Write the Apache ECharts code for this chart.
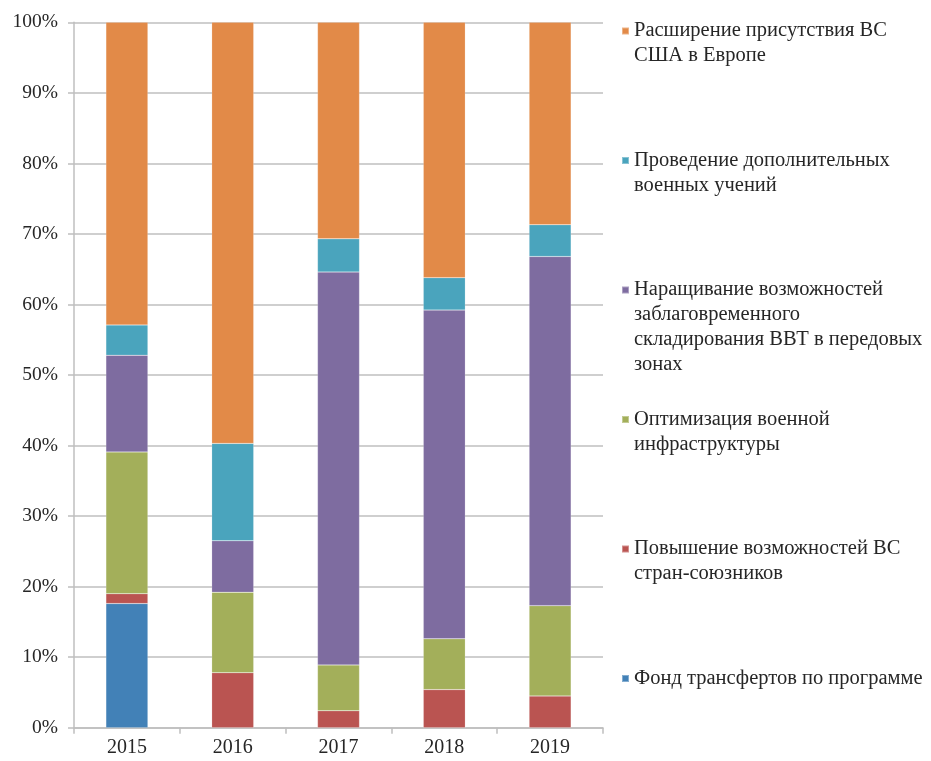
<!DOCTYPE html>
<html>
<head>
<meta charset="utf-8">
<script src="https://cdn.jsdelivr.net/npm/echarts@6/dist/echarts.min.js"></script>
<style>
  html, body { margin: 0; padding: 0; background: #fff; }
  #chart { width: 931px; height: 761px; }
</style>
</head>
<body>
<div id="chart"></div>
<script>
// Categories (years)
const years = ['2015', '2016', '2017', '2018', '2019'];

// Series names, bottom of the stack first (line breaks as shown in the legend)
const seriesNames = [
  'Фонд трансфертов по программе',
  'Повышение возможностей ВС\nстран-союзников',
  'Оптимизация военной\nинфраструктуры',
  'Наращивание возможностей\nзаблаговременного\nскладирования ВВТ в передовых\nзонах',
  'Проведение дополнительных\nвоенных учений',
  'Расширение присутствия ВС\nСША в Европе'
];

// Shares, % of the yearly total
const fundTransfers   = [17.6, 0, 0, 0, 0];
const alliesCapacity  = [1.4, 7.8, 2.4, 5.4, 4.5];
const infrastructure  = [20.1, 11.4, 6.5, 7.2, 12.8];
const prepositioning  = [13.7, 7.3, 55.7, 46.6, 49.5];
const exercises       = [4.3, 13.8, 4.7, 4.6, 4.5];
const presence        = [42.9, 59.7, 30.7, 36.2, 28.7];

const seriesValues = [fundTransfers, alliesCapacity, infrastructure, prepositioning, exercises, presence];
const colors = ['#4281B7', '#BA5451', '#A3AF5A', '#7E6CA0', '#4AA4BD', '#E28A48'];

// Y axis tick values
const yMin = 0, yMax = 100, yStep = 10;

const FONT = '"Liberation Serif", "Times New Roman", serif';
const TEXT = '#262626';
const GRID = '#BFBFBF';

// One legend block per series; blank lines above the text keep the
// marker level with the first text line
const LINE_H = 25;
const legendCenters = [678.5, 549, 419.5, 290, 160.5, 31];
const legends = seriesNames.map((name, i) => {
  const n = name.split('\n').length;
  const h = (2 * n - 1) * LINE_H;
  return {
    data: [name],
    left: 621,
    top: legendCenters[i] - h / 2,
    orient: 'vertical',
    padding: 0,
    itemWidth: 7,
    itemHeight: 7,
    icon: 'rect',
    selectedMode: false,
    formatter: (label) => ' \n'.repeat(n - 1) + label,
    textStyle: {
      fontFamily: FONT,
      fontSize: 20.5,
      color: TEXT,
      lineHeight: LINE_H
    }
  };
});

const chart = echarts.init(document.getElementById('chart'), null, { renderer: 'canvas' });
chart.setOption({
  animation: false,
  backgroundColor: '#fff',
  grid: { left: 74, right: 328, top: 22.3, bottom: 33.3 },
  legend: legends,
  xAxis: {
    type: 'category',
    data: years,
    boundaryGap: true,
    axisLine: { lineStyle: { color: GRID, width: 1.5 } },
    axisTick: { show: true, length: 6, alignWithLabel: false, lineStyle: { color: GRID, width: 1.5 } },
    axisLabel: { fontFamily: FONT, fontSize: 20, color: TEXT, margin: 10 }
  },
  yAxis: {
    type: 'value',
    min: yMin,
    max: yMax,
    interval: yStep,
    axisLine: { show: true, lineStyle: { color: GRID, width: 1.5 } },
    axisTick: { show: true, length: 6, lineStyle: { color: GRID, width: 1.5 } },
    axisLabel: { fontFamily: FONT, fontSize: 19.5, color: TEXT, margin: 16, formatter: '{value}%' },
    splitLine: { show: true, lineStyle: { color: GRID, width: 1.5 } }
  },
  series: seriesNames.map((name, i) => ({
    name: name,
    type: 'bar',
    stack: 'total',
    barWidth: 42,
    data: seriesValues[i],
    itemStyle: { color: colors[i], borderColor: 'rgba(255,255,255,0.35)', borderWidth: 0.5 }
  }))
});
</script>
</body>
</html>
